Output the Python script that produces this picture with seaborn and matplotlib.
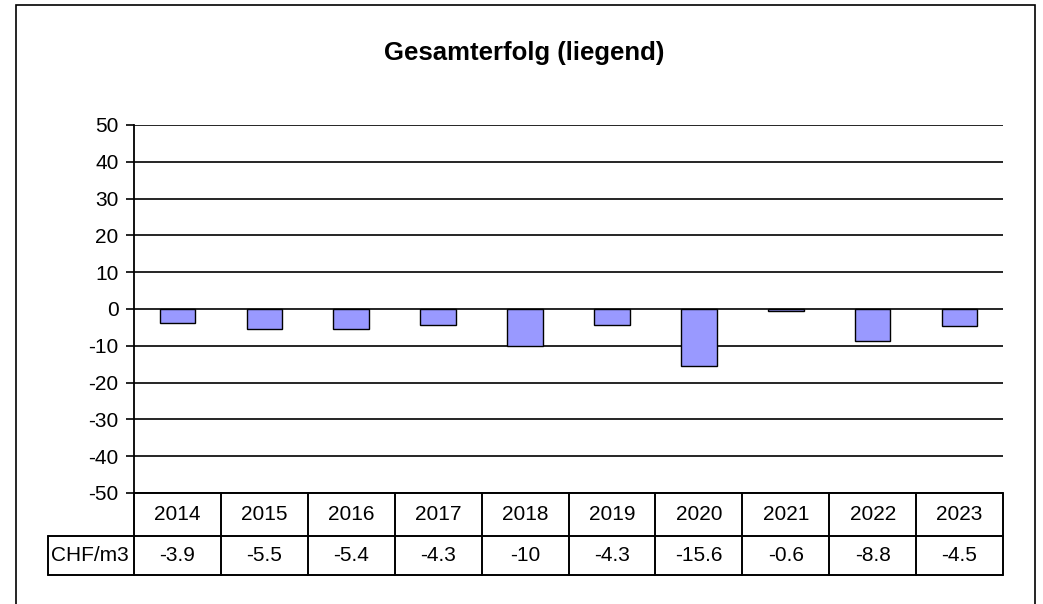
import matplotlib
matplotlib.use('Agg')
import matplotlib.pyplot as plt
import seaborn as sns
import pandas as pd
from matplotlib.patches import Rectangle
from matplotlib.lines import Line2D

# Chart data
years = ['2014', '2015', '2016', '2017', '2018', '2019', '2020', '2021', '2022', '2023']
chf_per_m3 = [-3.9, -5.5, -5.4, -4.3, -10, -4.3, -15.6, -0.6, -8.8, -4.5]
value_labels = ['-3.9', '-5.5', '-5.4', '-4.3', '-10', '-4.3', '-15.6', '-0.6', '-8.8', '-4.5']
row_label = 'CHF/m3'
title = 'Gesamterfolg (liegend)'

sns.set_theme(style='white')
plt.rcParams['font.family'] = ['Liberation Sans', 'DejaVu Sans']
plt.rcParams['axes.unicode_minus'] = False

df = pd.DataFrame({'year': years, 'value': chf_per_m3})

W, H = 1043, 604
fig = plt.figure(figsize=(W / 100, H / 100), dpi=100)
fig.patch.set_facecolor('white')

# outer frame
fig.patches.append(Rectangle((16 / W, -0.1), (1035 - 16) / W, 1.1 - 5 / H,
                             transform=fig.transFigure, fill=False,
                             edgecolor='black', linewidth=1.2))

left, right, top, bottom = 134, 1003, 125, 493
ax = fig.add_axes([left / W, 1 - bottom / H, (right - left) / W, (bottom - top) / H])

sns.barplot(data=df, x='year', y='value', color='#9999FF', edgecolor='black',
            linewidth=1.0, width=0.41, saturation=1, ax=ax)

ax.set_ylim(-50, 50)
ax.set_xlim(-0.5, len(years) - 0.5)
ax.set_yticks(range(-50, 51, 10))
ax.yaxis.grid(True, color='black', linewidth=1.2)
ax.set_axisbelow(True)
ax.set_xticks([])
ax.set_xlabel('')
ax.set_ylabel('')
for s in ['top', 'right', 'bottom']:
    ax.spines[s].set_visible(False)
ax.spines['left'].set_color('black')
ax.spines['left'].set_linewidth(1.3)
ax.tick_params(axis='y', left=True, length=6, width=1.2, color='black',
               labelsize=15, labelcolor='black', pad=5)

# data table beneath the axes
ax_h = bottom - top
row1 = -(536 - bottom) / ax_h
row2 = -(575 - bottom) / ax_h
label_left = -(left - 48) / (right - left)
n = len(years)
lk = dict(transform=ax.transAxes, color='black', linewidth=1.4, clip_on=False)

ax.add_line(Line2D([0, 1], [0, 0], **lk))
ax.add_line(Line2D([label_left, 1], [row1, row1], **lk))
ax.add_line(Line2D([label_left, 1], [row2, row2], **lk))
ax.add_line(Line2D([label_left, label_left], [row1, row2], **lk))
for i in range(n + 1):
    x = i / n
    ax.add_line(Line2D([x, x], [0, row2], **lk))

for i in range(n):
    xc = (i + 0.5) / n
    ax.text(xc, row1 / 2, years[i], transform=ax.transAxes, ha='center',
            va='center', fontsize=15, color='black')
    ax.text(xc, (row1 + row2) / 2, value_labels[i], transform=ax.transAxes,
            ha='center', va='center', fontsize=15, color='black')
ax.text(label_left + 0.003, (row1 + row2) / 2, row_label, transform=ax.transAxes,
        ha='left', va='center', fontsize=15, color='black')

fig.text(524 / W, 1 - 53 / H, title, ha='center', va='center',
         fontsize=18.5, fontweight='bold', color='black')

fig.savefig('out.png', dpi=100)
